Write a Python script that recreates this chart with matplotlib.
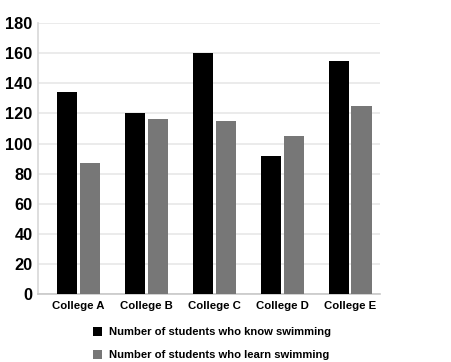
import matplotlib
matplotlib.use("Agg")
import matplotlib.pyplot as plt
import numpy as np

categories = ["College A", "College B", "College C", "College D", "College E"]
know = [134, 120, 160, 92, 155]
learn = [87, 116, 115, 105, 125]
series_names = ["Number of students who know swimming", "Number of students who learn swimming"]
yticks = [0, 20, 40, 60, 80, 100, 120, 140, 160, 180]

plt.rcParams['font.family'] = ['Liberation Sans', 'DejaVu Sans']

fig = plt.figure(figsize=(4.52, 3.62), dpi=100)
ax = fig.add_axes([0.084, 0.188, 0.757, 0.748])

x = np.arange(len(categories))
w = 0.30
off = 0.168
ax.bar(x - off, know, width=w, color="#000000", label=series_names[0], zorder=3)
ax.bar(x + off, learn, width=w, color="#777777", label=series_names[1], zorder=3)

ax.set_xlim(-0.596, 4.44)
ax.set_ylim(0, 180)
ax.set_yticks(yticks)
ax.set_xticks(x)
ax.set_xticklabels(categories, fontsize=8.2, fontweight="bold")
ax.set_yticklabels([str(t) for t in yticks], fontsize=11.8, fontweight="bold")
ax.tick_params(axis="both", length=0, pad=4)
ax.tick_params(axis="x", pad=5)
ax.grid(axis="y", color="#e8e8e8", linewidth=1.2, zorder=0)
for s in ["top", "right"]:
    ax.spines[s].set_visible(False)
ax.spines["left"].set_color("#d8d8d8")
ax.spines["left"].set_linewidth(1.2)
ax.spines["bottom"].set_color("#c8c8c8")
ax.spines["bottom"].set_linewidth(1.2)

leg = fig.legend(loc="upper left", bbox_to_anchor=(0.196, 0.108), ncol=1, frameon=False,
                 prop={"size": 8.1, "weight": "bold"}, handlelength=0.75, handleheight=0.75,
                 handletextpad=0.7, labelspacing=1.15, borderaxespad=0)

fig.savefig("out.png", dpi=100)
